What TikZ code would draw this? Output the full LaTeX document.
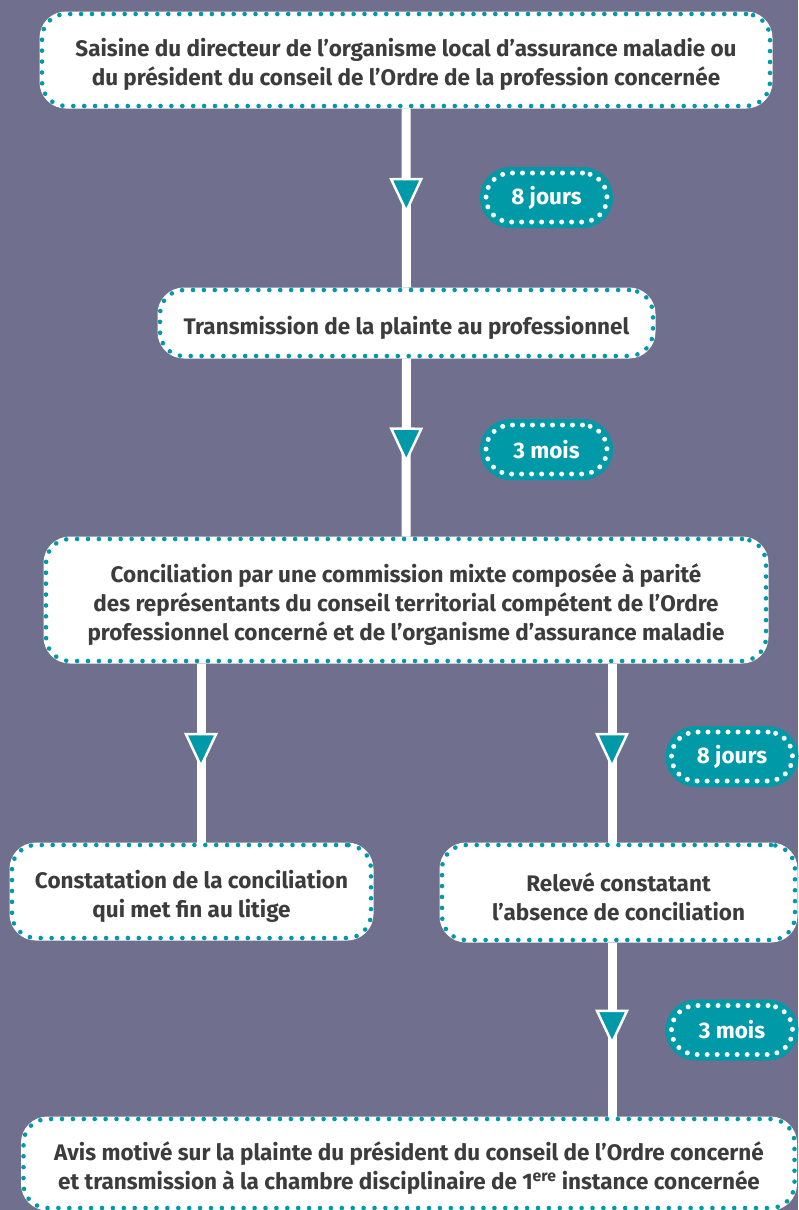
\documentclass[tikz,border=0pt]{standalone}
\usepackage{fontspec}
\setmainfont{Fira Sans}
\usetikzlibrary{decorations.markings}
\definecolor{bg}{HTML}{706F8E}
\definecolor{tealc}{HTML}{0099A8}
\definecolor{txt}{HTML}{3C3C3C}
\pgfdeclarelayer{bgfill}
\pgfdeclarelayer{lines}
\pgfsetlayers{bgfill,lines,main}
\newcommand\padtop{\rule{0pt}{27pt}}
\tikzset{
  box/.style={rectangle, rounded corners=24pt, fill=white, draw=white, line width=5pt,
    align=center, font=\bfseries\fontsize{22.5}{29}\selectfont, text=txt, inner sep=0pt,
    postaction={fill=none, draw=tealc, line width=4.6pt, line cap=round, dash pattern=on 0pt off 10.9pt}},
  pill/.style={rectangle, rounded corners=24.5pt, fill=tealc, draw=tealc, line width=12pt,
    minimum width=121pt, minimum height=49pt, inner sep=0pt, text=white,
    font=\bfseries\fontsize{22.5}{27}\selectfont,
    postaction={fill=none, draw=white, line width=5pt, line cap=round, dash pattern=on 0pt off 10pt}},
  conn/.style={draw=white, line width=9pt,
    postaction={decorate, decoration={markings, mark=at position 0.49 with {
      \filldraw[fill=tealc, draw=white, line width=2.5pt, line join=miter] (15,0) -- (-17,15) -- (-17,-15) -- cycle;}}}}
}
\begin{document}
\begin{tikzpicture}[x=1pt,y=-1pt]
\begin{pgfonlayer}{bgfill}
\fill[bg] (0,0) rectangle (798,1210);
\end{pgfonlayer}
\useasboundingbox (0,0) rectangle (798,1210);

\node[box, minimum width=728pt, minimum height=92pt] (b1) at (406,60)
  {\padtop Saisine du directeur de l’organisme local d’assurance maladie ou\\du président du conseil de l’Ordre de la profession concernée};
\node[box, minimum width=493pt, minimum height=66pt] (b2) at (406.5,323)
  {\padtop Transmission de la plainte au professionnel};
\node[box, minimum width=720pt, minimum height=122pt] (b3) at (406,600)
  {\padtop Conciliation par une commission mixte composée à parité\\des représentants du conseil territorial compétent de l’Ordre\\professionnel concerné et de l’organisme d’assurance maladie};
\node[box, minimum width=359pt, minimum height=93pt] (b4) at (191.5,891.5)
  {\padtop Constatation de la conciliation\\qui met fin au litige};
\node[box, minimum width=353pt, minimum height=95pt] (b5) at (618.5,892.5)
  {\padtop Relevé constatant\\l’absence de conciliation};
\node[box, minimum width=771pt, minimum height=89pt] (b6) at (409,1163.5)
  {\padtop Avis motivé sur la plainte du président du conseil de l’Ordre concerné\\et transmission à la chambre disciplinaire de 1\textsuperscript{ere} instance concernée};

\node[pill] (p1) at (546.5,197.5) {8 jours};
\node[pill] (p2) at (546.5,449.5) {3 mois};
\node[pill] (p3) at (732,756.5) {8 jours};
\node[pill] (p4) at (732,1030) {3 mois};

\coordinate (xl) at (201,0);
\coordinate (xr) at (612,0);

\begin{pgfonlayer}{lines}
\draw[conn] (b1.south) -- (b2.north);
\draw[conn] (b2.south) -- (b3.north);
\draw[conn] (b3.south -| xl) -- (b4.north -| xl);
\draw[conn] (b3.south -| xr) -- (b5.north -| xr);
\draw[conn] (b5.south -| xr) -- (b6.north -| xr);
\end{pgfonlayer}
\end{tikzpicture}
\end{document}
